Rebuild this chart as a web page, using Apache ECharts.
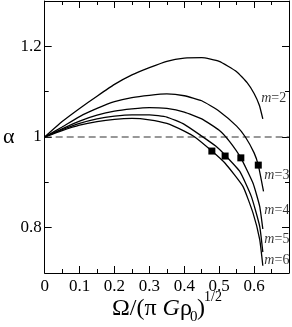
<!DOCTYPE html>
<html><head><meta charset="utf-8">
<script src="https://cdn.jsdelivr.net/npm/echarts@6/dist/echarts.min.js"></script>
<style>html,body{margin:0;padding:0;background:#fff}#c{width:292px;height:327px}</style>
</head><body><div id="c"></div>
<script>
const omegaM2 = [0, 0.05, 0.1, 0.15, 0.2, 0.25, 0.3, 0.35, 0.4, 0.45, 0.5, 0.55, 0.58, 0.6, 0.615, 0.625];
const alphaM2 = [1, 1.034, 1.063, 1.09, 1.116, 1.137, 1.153, 1.167, 1.174, 1.175, 1.167, 1.144, 1.12, 1.096, 1.07, 1.04];
const omegaM3 = [0, 0.05, 0.1, 0.15, 0.2, 0.25, 0.3, 0.35, 0.4, 0.45, 0.5, 0.55, 0.575, 0.6, 0.612, 0.627];
const alphaM3 = [1, 1.022, 1.045, 1.063, 1.078, 1.087, 1.092, 1.095, 1.091, 1.08, 1.057, 1.024, 1.0, 0.965, 0.938, 0.88];
const omegaM4 = [0, 0.05, 0.1, 0.15, 0.2, 0.25, 0.3, 0.35, 0.4, 0.45, 0.5, 0.53, 0.562, 0.597, 0.616, 0.625];
const alphaM4 = [1, 1.018, 1.035, 1.048, 1.057, 1.062, 1.065, 1.063, 1.055, 1.04, 1.015, 0.99, 0.954, 0.898, 0.847, 0.797];
const omegaM5 = [0, 0.05, 0.1, 0.15, 0.2, 0.25, 0.3, 0.35, 0.4, 0.45, 0.49, 0.517, 0.559, 0.592, 0.616, 0.625];
const alphaM5 = [1, 1.016, 1.03, 1.04, 1.046, 1.049, 1.049, 1.044, 1.028, 1.002, 0.98, 0.96, 0.924, 0.869, 0.803, 0.746];
const omegaM6 = [0, 0.05, 0.1, 0.15, 0.2, 0.25, 0.3, 0.35, 0.4, 0.43, 0.479, 0.517, 0.568, 0.597, 0.616, 0.625];
const alphaM6 = [1, 1.014, 1.026, 1.034, 1.039, 1.041, 1.038, 1.03, 1.013, 1.0, 0.969, 0.942, 0.891, 0.832, 0.774, 0.716];
const squareOmega = [0.479, 0.517, 0.562, 0.612];
const squareAlpha = [0.969, 0.958, 0.954, 0.938];
const refOmega = [0, 0.7];
const refAlpha = [1, 1];
const curveNames = ['2', '3', '4', '5', '6'];
const labelOmega = [0.619, 0.628, 0.628, 0.628, 0.628];
const labelAlpha = [1.085, 0.915, 0.838, 0.774, 0.728];
const yMajor = [0.8, 1, 1.2];
const yMinor = [0.9, 1.1];

const FONT = "'Liberation Serif', 'Times New Roman', serif";
const zip = (a, b) => a.map((v, i) => [v, b[i]]);
const curves = [[omegaM2, alphaM2], [omegaM3, alphaM3], [omegaM4, alphaM4], [omegaM5, alphaM5], [omegaM6, alphaM6]];

const chart = echarts.init(document.getElementById('c'));
const yBase = {type: 'value', min: 0.7, max: 1.3, interval: 0.1, splitLine: {show: false}, axisLine: {show: false}};
const xBase = {type: 'value', min: 0, max: 0.7, interval: 0.1, splitLine: {show: false}};

chart.setOption({
  animation: false,
  grid: {left: 42, right: 3, top: 1, bottom: 54, show: false},
  xAxis: [
    Object.assign({}, xBase, {position: 'bottom',
      axisLine: {show: true, lineStyle: {color: '#000', width: 1}},
      axisTick: {inside: true, length: 7, lineStyle: {color: '#000'}},
      minorTick: {show: true, splitNumber: 2, length: 4, lineStyle: {color: '#000'}},
      axisLabel: {margin: 5, color: '#000', fontFamily: FONT, fontSize: 17,
        formatter: v => v > 0.65 ? '' : String(+v.toFixed(1))}}),
    Object.assign({}, xBase, {position: 'top',
      axisLine: {show: true, lineStyle: {color: '#000', width: 1}},
      axisTick: {inside: true, length: 7, lineStyle: {color: '#000'}},
      minorTick: {show: true, splitNumber: 2, length: 4, lineStyle: {color: '#000'}},
      axisLabel: {show: false}})
  ],
  yAxis: [
    Object.assign({}, yBase, {position: 'left', axisLine: {show: true, lineStyle: {color: '#000'}},
      axisTick: {inside: true, length: 7, customValues: yMajor, lineStyle: {color: '#000'}},
      axisLabel: {customValues: yMajor, margin: 3, color: '#000', fontFamily: FONT, fontSize: 17,
        formatter: v => String(+(+v).toFixed(1))},
      name: 'α', nameLocation: 'middle', nameRotate: 0, nameGap: 29,
      nameTextStyle: {fontFamily: FONT, fontSize: 22, color: '#000', align: 'right', verticalAlign: 'middle'}}),
    Object.assign({}, yBase, {position: 'left',
      axisTick: {inside: true, length: 4, customValues: yMinor, lineStyle: {color: '#000'}},
      axisLabel: {show: false}}),
    Object.assign({}, yBase, {position: 'right', axisLine: {show: true, lineStyle: {color: '#000'}},
      axisTick: {inside: true, length: 7, customValues: yMajor, lineStyle: {color: '#000'}},
      axisLabel: {show: false}}),
    Object.assign({}, yBase, {position: 'right',
      axisTick: {inside: true, length: 4, customValues: yMinor, lineStyle: {color: '#000'}},
      axisLabel: {show: false}})
  ],
  series: [
    {type: 'line', data: zip(refOmega, refAlpha), showSymbol: false, silent: true,
      lineStyle: {color: '#333', width: 1.2, type: [7, 4]}},
    ...curves.map(c => ({type: 'line', data: zip(c[0], c[1]), showSymbol: false, smooth: 0.15,
      lineStyle: {color: '#000', width: 1.3}})),
    {type: 'scatter', data: zip(squareOmega, squareAlpha), symbol: 'rect', symbolSize: 7,
      itemStyle: {color: '#000', opacity: 1}},
    {type: 'scatter', data: zip(labelOmega, labelAlpha), symbol: 'circle', symbolSize: 1,
      itemStyle: {color: 'rgba(0,0,0,0)'},
      label: {show: true, position: 'right', distance: 0, color: '#000',
        formatter: p => '{i|m}{n|=' + curveNames[p.dataIndex] + '}',
        rich: {i: {fontFamily: FONT, fontStyle: 'italic', fontSize: 14, color: '#000'},
               n: {fontFamily: FONT, fontSize: 14, color: '#000'}}}}
  ],
  graphic: [
    {type: 'text', left: 112, top: 297, style: {text: 'Ω/(π {i|G}ρ', fontFamily: FONT, fontSize: 24, fill: '#000',
      rich: {i: {fontFamily: FONT, fontStyle: 'italic', fontSize: 24}}}},
    {type: 'text', left: 190, top: 310, style: {text: '0', fontFamily: FONT, fontSize: 15, fill: '#000'}},
    {type: 'text', left: 197, top: 297, style: {text: ')', fontFamily: FONT, fontSize: 24, fill: '#000'}},
    {type: 'text', left: 204, top: 290, style: {text: '1/2', fontFamily: FONT, fontSize: 14, fill: '#000'}}
  ]
});
</script></body></html>
